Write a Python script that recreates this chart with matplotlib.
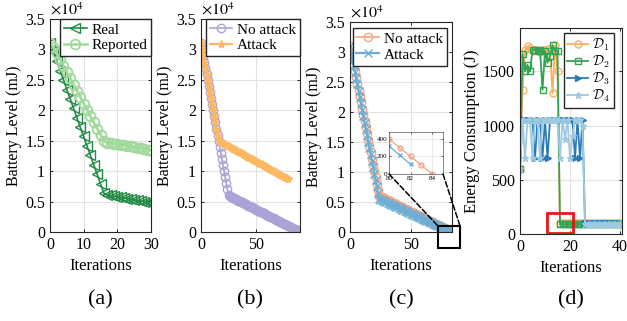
import matplotlib.pyplot as plt
import numpy as np
from matplotlib.ticker import FuncFormatter
from matplotlib.patches import Rectangle, ConnectionPatch

plt.rcParams['font.family'] = ['Liberation Serif', 'DejaVu Serif']
plt.rcParams['mathtext.fontset'] = 'stix'
plt.rcParams['xtick.direction'] = 'in'
plt.rcParams['ytick.direction'] = 'in'

# (a) real vs reported battery level
real_a = [31000, 29700, 28100, 26500, 25000, 23400, 21900, 20300, 18800, 17200, 15700,
          14100, 12600, 11000, 9500, 7900, 6400, 6100, 6000, 5900, 5800, 5700, 5600, 5500,
          5400, 5300, 5200, 5100, 5000, 4950, 4900]
reported_a = [31000, 30400, 29400, 28400, 27300, 26300, 25300, 24200, 23200, 22200, 21100,
              20100, 19000, 18000, 17000, 16000, 15000, 14700, 14600, 14500, 14400, 14300,
              14250, 14150, 14050, 13950, 13850, 13750, 13650, 13550, 13450]

# (b) no attack vs attack
noatk_b = [31000, 30000, 29000, 28000, 27000, 26000, 25000, 24000, 23000, 22000, 21000,
           20000, 19000, 18000, 17000, 16000, 15000, 14000, 13000, 12000, 11000, 10000,
           9000, 8000, 7000, 6000, 5910, 5820, 5720, 5630, 5540, 5450, 5350, 5260, 5170,
           5080, 4980, 4890, 4800, 4710, 4620, 4520, 4430, 4340, 4250, 4150, 4060, 3970,
           3880, 3780, 3690, 3600, 3510, 3420, 3320, 3230, 3140, 3050, 2950, 2860, 2770,
           2680, 2580, 2490, 2400, 2310, 2220, 2120, 2030, 1940, 1850, 1750, 1660, 1570,
           1480, 1380, 1290, 1200, 1110, 1020, 920, 830, 740, 650, 550, 460, 370, 280,
           180, 90, 0]
atk_b = [31000, 30000, 29000, 28000, 27000, 26000, 25000, 24000, 23000, 22000, 21000,
         20000, 19000, 18000, 17000, 16000, 15000, 14900, 14800, 14700, 14600, 14500,
         14400, 14300, 14200, 14100, 14000, 13900, 13800, 13700, 13600, 13500, 13400,
         13300, 13200, 13100, 13000, 12900, 12800, 12700, 12600, 12500, 12400, 12300,
         12200, 12100, 12000, 11900, 11800, 11700, 11600, 11500, 11400, 11300, 11200,
         11100, 11000, 10900, 10800, 10700, 10600, 10500, 10400, 10300, 10200, 10100,
         10000, 9900, 9800, 9700, 9600, 9500, 9400, 9300, 9200, 9100, 9000, 8900, 8800, 8700]

# (c) no attack vs attack (with zoom on the tail)
noatk_c = [31000, 29960, 28920, 27880, 26830, 25790, 24750, 23710, 22670, 21630, 20580,
           19540, 18500, 17460, 16420, 15380, 14330, 13290, 12250, 11210, 10170, 9130,
           8080, 7040, 6000, 5900, 5800, 5700, 5600, 5500, 5400, 5300, 5200, 5100, 5000,
           4900, 4800, 4700, 4600, 4500, 4400, 4300, 4200, 4100, 4000, 3900, 3800, 3700,
           3600, 3500, 3400, 3300, 3200, 3100, 3000, 2900, 2800, 2700, 2600, 2500, 2400,
           2300, 2200, 2100, 2000, 1900, 1800, 1700, 1600, 1500, 1400, 1300, 1200, 1100,
           1000, 900, 800, 700, 600, 500, 400, 300, 200, 100, 0]
atk_c = [31000, 29940, 28880, 27820, 26750, 25690, 24630, 23570, 22500, 21440, 20380,
         19320, 18250, 17190, 16130, 15060, 14000, 12940, 11880, 10810, 9750, 8690, 7630,
         6560, 5500, 5410, 5310, 5220, 5130, 5040, 4940, 4850, 4760, 4660, 4570, 4480,
         4380, 4290, 4200, 4110, 4010, 3920, 3830, 3730, 3640, 3550, 3450, 3360, 3270,
         3180, 3080, 2990, 2900, 2800, 2710, 2620, 2520, 2430, 2340, 2250, 2150, 2060,
         1970, 1870, 1780, 1690, 1590, 1500, 1410, 1320, 1220, 1130, 1040, 940, 850, 760,
         660, 570, 480, 390, 320, 215, 110]

# (d) energy consumption of the four devices
d1 = [600, 1330, 1700, 1730, 1720, 1690, 1700, 1700, 1680, 1700, 1700, 1710, 1690, 1300,
      1740, 1500] + [100] * 25
d2 = [600, 1660, 1500, 1560, 1500, 1700, 1700, 1690, 1700, 1330, 1690, 1580, 1640, 1740,
      1690, 1690] + [90] * 25
d3 = [600, 1060, 1050, 1050, 1050, 1050, 700, 1050, 1050, 700, 1050, 700, 1050, 1050,
      1050, 1050, 1040, 1050, 1050, 1050, 1050, 1050, 700, 1050, 700, 1050] + [100] * 15
d4 = [600, 1050, 700, 1050, 1050, 700, 1050, 1050, 700, 1050, 1050, 1050, 1050, 1050,
      1050, 1050, 700, 1050, 880, 1050, 700, 900, 1050, 1050, 1050, 1000] + [95] * 15

W, H = 627, 321
fig = plt.figure(figsize=(W / 100, H / 100), dpi=100)


def box(l, r, t, b):
    return [l / W, 1 - b / H, (r - l) / W, (b - t) / H]


def style(ax):
    ax.grid(True, color='#e3e3e3', lw=0.8)
    ax.set_axisbelow(True)
    ax.tick_params(labelsize=11.5, length=2.5, top=True, right=True, width=0.6)
    for s in ax.spines.values():
        s.set_linewidth(0.8)
        s.set_color('#262626')


sci = FuncFormatter(lambda v, p: f'{v / 1e4:g}')
leg_kw = dict(fancybox=False, edgecolor='#262626', framealpha=1,
              borderpad=0.25, labelspacing=0.15, handlelength=1.5, handletextpad=0.3,
              borderaxespad=0.0)

# ---- (a)
ax = fig.add_axes(box(50, 151, 19, 232))
x = np.arange(len(real_a))
ax.plot(x, real_a, '-<', color='#238b45', mfc='none', ms=7, lw=1.2, label='Real')
ax.plot(x, reported_a, '-o', color='#a1d99b', mfc='none', ms=7, lw=1.8, mew=1.3,
        label='Reported')
ax.set_xlim(0, 30)
ax.set_ylim(0, 35000)
ax.set_xticks([0, 10, 20, 30])
ax.set_yticks(np.arange(0, 35001, 5000))
ax.yaxis.set_major_formatter(sci)
ax.set_xlabel('Iterations', fontsize=12)
ax.set_ylabel('Battery Level (mJ)', fontsize=11.5, labelpad=2)
ax.text(0, 1.0, r'$\times10^4$', transform=ax.transAxes, fontsize=11.5, va='bottom')
style(ax)
ax.legend(loc='upper right', fontsize=11, **leg_kw)

# ---- (b)
ax = fig.add_axes(box(201, 300, 19, 232))
ax.plot(np.arange(len(noatk_b)), noatk_b, '-o', color='#aaa4d6', mfc='none', ms=6,
        lw=1.2, label='No attack')
ax.plot(np.arange(len(atk_b)), atk_b, '-*', color='#fdb863', ms=6, lw=1.5, label='Attack')
ax.set_xlim(0, 90)
ax.set_ylim(0, 35000)
ax.set_xticks([0, 50])
ax.set_yticks(np.arange(0, 35001, 5000))
ax.yaxis.set_major_formatter(sci)
ax.set_xlabel('Iterations', fontsize=12)
ax.set_ylabel('Battery Level (mJ)', fontsize=11.5, labelpad=2)
ax.text(0, 1.0, r'$\times10^4$', transform=ax.transAxes, fontsize=11.5, va='bottom')
style(ax)
ax.legend(loc='upper right', fontsize=11, **leg_kw)

# ---- (c)
axc = fig.add_axes(box(350, 452, 22, 232))
axc.plot(np.arange(len(noatk_c)), noatk_c, '-o', color='#f4a582', mfc='none', ms=6,
         lw=1.2, label='No attack')
axc.plot(np.arange(len(atk_c)), atk_c, '-x', color='#6baed6', ms=5.5, lw=1.6, label='Attack')
axc.set_xlim(0, 84)
axc.set_ylim(0, 35000)
axc.set_xticks([0, 50])
axc.set_yticks(np.arange(0, 35001, 5000))
axc.yaxis.set_major_formatter(sci)
axc.set_xlabel('Iterations', fontsize=12)
axc.set_ylabel('Battery Level (mJ)', fontsize=11.5, labelpad=2)
axc.text(0, 1.0, r'$\times10^4$', transform=axc.transAxes, fontsize=11.5, va='bottom')
style(axc)
axc.legend(loc='upper right', bbox_to_anchor=(0.95, 0.97), fontsize=11, **leg_kw)
axc.add_patch(Rectangle((72.5, -2660), 18.1, 3660, fill=False, ec='black', lw=1.5,
                        clip_on=False, zorder=5))

ins = fig.add_axes(box(389, 443, 132, 174))
ins.plot(np.arange(len(noatk_c)), noatk_c, '-o', color='#f4a582', mfc='none', ms=3.5, lw=0.9)
ins.plot(np.arange(len(atk_c)), atk_c, '-x', color='#6baed6', ms=2.5, lw=0.9)
ins.set_xlim(80, 85)
ins.set_ylim(0, 480)
ins.set_xticks([80, 82, 84])
ins.set_yticks([0, 200, 400])
ins.grid(True, color='#e3e3e3', lw=0.5)
ins.tick_params(labelsize=5, length=1.5, pad=1, width=0.4, top=True, right=True)
ins.tick_params(axis='x', pad=1.8)
for s in ins.spines.values():
    s.set_linewidth(0.5)
    s.set_color('#555555')

for xa, xd in [((0, 0), (72.5, 1000)), ((1, 0), (90.6, 1000))]:
    con = ConnectionPatch(xyA=xa, coordsA=ins.transAxes, xyB=xd, coordsB=axc.transData,
                          ls='--', lw=1.1, color='black')
    fig.add_artist(con)

# ---- (d)
ax = fig.add_axes(box(520, 622, 28, 234))
x = np.arange(len(d1))
ax.plot(x, d1, '-o', color='#fdae61', mfc='none', ms=5, lw=1.3, label=r'$\mathcal{D}_1$')
ax.plot(x, d2, '-s', color='#31a354', mfc='none', ms=4.5, lw=1.3, label=r'$\mathcal{D}_2$')
ax.plot(x, d3, '->', color='#2b7bba', ms=5, lw=1.3, label=r'$\mathcal{D}_3$')
ax.plot(x, d4, '-*', color='#9ecae1', ms=5, lw=1.3, label=r'$\mathcal{D}_4$')
ax.set_xlim(0, 40.8)
ax.set_ylim(0, 1900)
ax.set_xticks([0, 20, 40])
ax.set_yticks([0, 500, 1000, 1500])
ax.set_xlabel('Iterations', fontsize=12)
ax.set_ylabel('Energy Consumption (J)', fontsize=12, labelpad=2)
style(ax)
kw = dict(leg_kw)
kw['labelspacing'] = 0.05
ax.legend(loc='upper right', bbox_to_anchor=(0.92, 0.975),
          prop={'size': 10, 'math_fontfamily': 'cm'}, **kw)
ax.add_patch(Rectangle((10.7, 6), 10.4, 186, fill=False, ec='#e31a1c', lw=2, zorder=6))

for cx, lab in [(100.5, '(a)'), (250.5, '(b)'), (401, '(c)'), (571, '(d)')]:
    fig.text(cx / W, 1 - 300 / H, lab, ha='center', va='center', fontsize=16)

fig.savefig('out.png', dpi=100)
